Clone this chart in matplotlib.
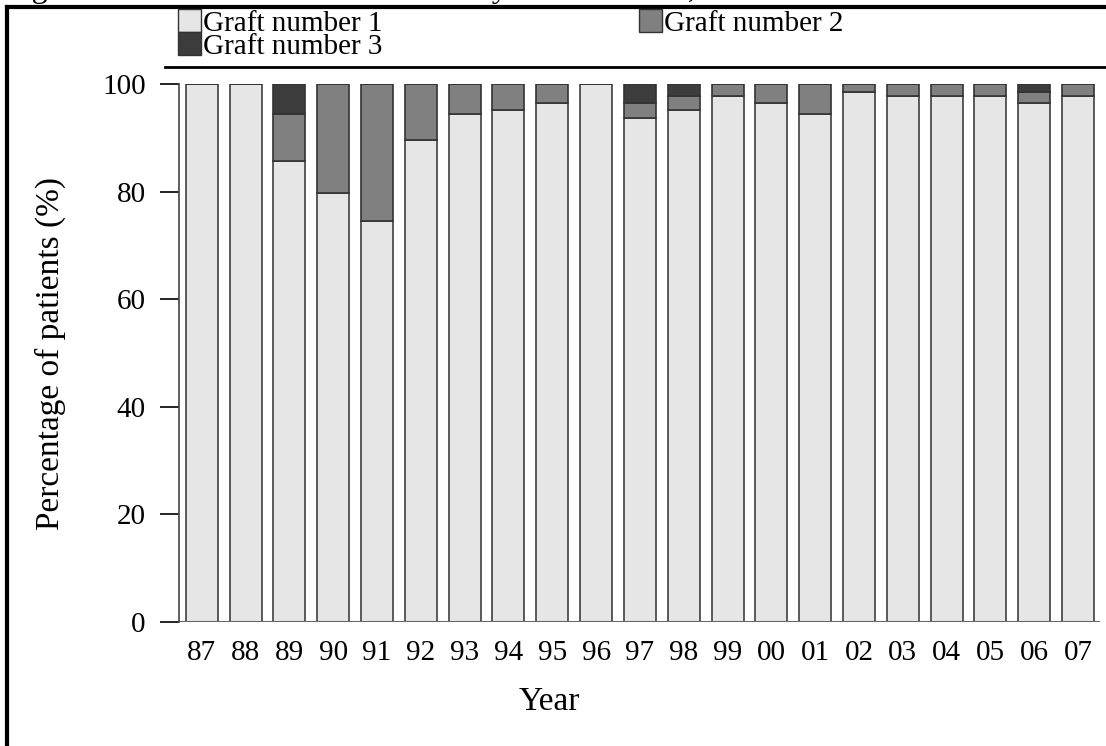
import matplotlib.pyplot as plt
import numpy as np
from matplotlib.lines import Line2D
from matplotlib.patches import Patch

plt.rcParams['font.family'] = ['Liberation Serif', 'DejaVu Serif']

years = ['87', '88', '89', '90', '91', '92', '93', '94', '95', '96', '97',
         '98', '99', '00', '01', '02', '03', '04', '05', '06', '07']
graft1 = [100, 100, 85.6, 79.7, 74.5, 89.6, 94.5, 95.2, 96.5, 100, 93.6,
          95.2, 97.7, 96.5, 94.5, 98.6, 97.8, 97.8, 97.8, 96.5, 97.8]
graft2 = [0, 0, 8.8, 20.3, 25.5, 10.4, 5.5, 4.8, 3.5, 0, 2.8,
          2.6, 2.3, 3.5, 5.5, 1.4, 2.2, 2.2, 2.2, 2.1, 2.2]
graft3 = [0, 0, 5.6, 0, 0, 0, 0, 0, 0, 0, 3.6,
          2.2, 0, 0, 0, 0, 0, 0, 0, 1.4, 0]
labels = ['Graft number 1', 'Graft number 2', 'Graft number 3']
colors = ['#e6e6e6', '#808080', '#3c3c3c']

fig = plt.figure(figsize=(11.06, 7.46), dpi=100)
ax = fig.add_axes([179/1106, 1 - 622/746, (1100 - 179)/1106, (622 - 84)/746])

x = np.arange(len(years))
w = 0.73
g1 = np.array(graft1)
g2 = np.array(graft2)
g3 = np.array(graft3)
ax.bar(x, g1, w, color=colors[0], edgecolor='#404040', linewidth=1.2)
ax.bar(x, g2, w, bottom=g1, color=colors[1], edgecolor='#333333', linewidth=1.2)
ax.bar(x, g3, w, bottom=g1 + g2, color=colors[2], edgecolor='#333333', linewidth=1.2)

ax.set_xlim(-0.52, 20.5)
ax.set_ylim(0, 100)
ax.set_yticks([0, 20, 40, 60, 80, 100])
ax.set_xticks(x)
ax.set_xticklabels(years)
ax.tick_params(axis='y', direction='out', length=14, width=1.2, labelsize=21, pad=10)
ax.tick_params(axis='x', length=0, labelsize=21, pad=13)
for s in ['top', 'right']:
    ax.spines[s].set_visible(False)
ax.spines['left'].set_color('#444444')
ax.spines['left'].set_linewidth(1.2)
ax.spines['bottom'].set_visible(False)
# baseline extends left of the y axis
ax.add_line(Line2D([165/1106, 1100/1106], [1 - 622/746] * 2, transform=fig.transFigure,
                   color='#666666', linewidth=1.5))

ax.set_ylabel('Percentage of patients (%)', fontsize=24, labelpad=26)
ax.set_xlabel('Year', fontsize=24)
ax.xaxis.set_label_coords(0.402, -0.12)

# legend block
handles = [Patch(facecolor=c, edgecolor='#333333') for c in colors]
fig.legend(handles[:2], labels[:2], loc='upper left', bbox_to_anchor=(178/1106, 1 - 9/746),
           ncol=2, frameon=False, fontsize=21, handlelength=0.8, handleheight=0.85,
           handletextpad=0.05, columnspacing=8.8, borderpad=0, borderaxespad=0)
fig.legend(handles[2:], labels[2:], loc='upper left', bbox_to_anchor=(178/1106, 1 - 32/746),
           frameon=False, fontsize=21, handlelength=0.8, handleheight=0.85,
           handletextpad=0.05, borderpad=0, borderaxespad=0)

# separator under legend and outer frame
fig.add_artist(Line2D([165/1106, 1.0], [1 - 67/746] * 2, color='black', linewidth=2))
fig.add_artist(Line2D([7/1106, 1.0], [1 - 7/746] * 2, color='black', linewidth=3))
fig.add_artist(Line2D([7/1106, 7/1106], [0, 1 - 7/746], color='black', linewidth=3))

# caption, mostly cut off by the page top
fig.text(5/1106, 1 + 3/746, 'Figure 13.4: Distribution of Patients by Graft number, 1987-2007',
         fontsize=23, va='baseline', ha='left')

fig.savefig('out.png', dpi=100)
